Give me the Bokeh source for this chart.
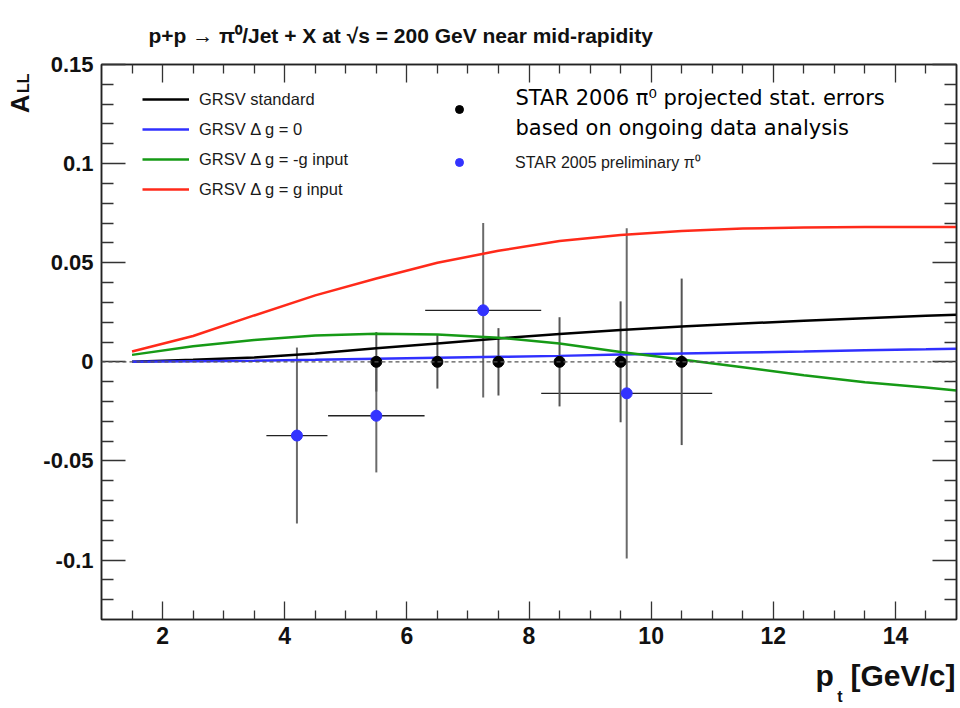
from bokeh.plotting import figure
from bokeh.models import (Range1d, LinearAxis, FixedTicker, Span, Title,
                          Legend, LegendItem, Label)
from bokeh.core.properties import value
from bokeh.embed import file_html
from bokeh.resources import INLINE

# ---------------- data ----------------
x_curve = [1.5, 2.5, 3.5, 4.5, 5.5, 6.5, 7.5, 8.5, 9.5, 10.5, 11.5, 12.5, 13.5, 14.5, 15.0]
grsv_std = [0.0, 0.001, 0.0022, 0.0042, 0.0068, 0.0093, 0.0118, 0.014, 0.016, 0.0178,
            0.0193, 0.0207, 0.022, 0.0232, 0.0238]
grsv_zero = [0.0, 0.0003, 0.0006, 0.001, 0.0015, 0.002, 0.0025, 0.003, 0.0037, 0.0042,
             0.0047, 0.0052, 0.0058, 0.0063, 0.0066]
grsv_minus = [0.0035, 0.0078, 0.011, 0.0133, 0.0142, 0.0138, 0.0122, 0.0092, 0.005, 0.0012,
              -0.0027, -0.0068, -0.0103, -0.013, -0.0145]
grsv_plus = [0.0052, 0.013, 0.0234, 0.0335, 0.042, 0.050, 0.056, 0.061, 0.064, 0.066,
             0.0672, 0.0678, 0.068, 0.068, 0.068]

star06_x = [5.5, 6.5, 7.5, 8.5, 9.5, 10.5]
star06_y = [0.0, 0.0, 0.0, 0.0, 0.0, 0.0]
star06_yerr = [0.015, 0.0135, 0.017, 0.0225, 0.0305, 0.042]

star05_x = [4.2, 5.5, 7.25, 9.6]
star05_y = [-0.0372, -0.0272, 0.026, -0.0159]
star05_yerr = [0.0444, 0.0286, 0.044, 0.0833]
star05_xerr = [0.5, 0.79, 0.95, 1.4]

x_major = [2, 4, 6, 8, 10, 12, 14]
x_minor = [1.5, 2.5, 3, 3.5, 4.5, 5, 5.5, 6.5, 7, 7.5, 8.5, 9, 9.5, 10.5, 11, 11.5,
           12.5, 13, 13.5, 14.5]
x_labels = ["2", "4", "6", "8", "10", "12", "14"]
y_major = [-0.1, -0.05, 0.0, 0.05, 0.1, 0.15]
y_minor = [-0.12, -0.11, -0.09, -0.08, -0.07, -0.06, -0.04, -0.03, -0.02, -0.01,
           0.01, 0.02, 0.03, 0.04, 0.06, 0.07, 0.08, 0.09, 0.11, 0.12, 0.13, 0.14]
y_labels = ["-0.1", "-0.05", "0", "0.05", "0.1", "0.15"]

title_text = "p+p \u2192 \u03c0\u2070/Jet + X at \u221as = 200 GeV near mid-rapidity"
legend_curves = ["GRSV standard", "GRSV \u0394 g = 0", "GRSV \u0394 g = -g input",
                 "GRSV \u0394 g = g input"]
legend_05 = "STAR 2005 preliminary \u03c0\u2070"
note_lines = ["STAR 2006 \u03c0\u2070 projected stat. errors", "based on ongoing data analysis"]

# ---------------- figure ----------------
FL, FB = 101, 619  # frame left / bottom on the canvas

p = figure(width=960, height=708, output_backend="svg", toolbar_location=None,
           x_range=Range1d(1, 15), y_range=Range1d(-0.13, 0.15),
           min_border_left=101, min_border_right=4, min_border_top=64,
           min_border_bottom=89, x_axis_location=None, y_axis_location=None)
p.background_fill_color = "white"
p.border_fill_color = "white"
p.outline_line_color = "#222222"
p.outline_line_width = 1.5
p.grid.visible = False
p.xgrid.visible = False
p.ygrid.visible = False


def make_axis(ticks, minor, labels, maj_in, min_in, show, size):
    ax = LinearAxis(ticker=FixedTicker(ticks=ticks, minor_ticks=minor))
    ax.major_tick_in = maj_in
    ax.major_tick_out = 0
    ax.minor_tick_in = min_in
    ax.minor_tick_out = 0
    ax.major_tick_line_color = "#333333"
    ax.minor_tick_line_color = "#333333"
    ax.major_tick_line_width = 1.3
    ax.minor_tick_line_width = 1.3
    ax.axis_line_color = "#222222"
    ax.axis_line_width = 1.5
    if show:
        ax.major_label_overrides = {t: l for t, l in zip(ticks, labels)}
        ax.major_label_text_font = "Liberation Sans"
        ax.major_label_text_font_style = "bold"
        ax.major_label_text_font_size = size
        ax.major_label_text_color = "#111111"
    else:
        ax.major_label_overrides = {t: "" for t in ticks}
        ax.major_label_standoff = 0
        ax.major_label_text_font_size = "1px"
    return ax


xb = make_axis(x_major, x_minor, x_labels, 18, 9, True, "23px")
xb.major_label_standoff = 7
yl = make_axis(y_major, y_minor, y_labels, 24, 12, True, "22px")
yl.major_label_standoff = 8
xt = make_axis(x_major, x_minor, x_labels, 18, 9, False, "1px")
yr = make_axis(y_major, y_minor, y_labels, 24, 12, False, "1px")
p.add_layout(xb, "below")
p.add_layout(yl, "left")
p.add_layout(xt, "above")
p.add_layout(yr, "right")

# ---- title (above) ----
p.title.text = title_text
p.title.align = "left"
p.title.offset = 47
p.title.standoff = 36
p.title.text_font = "Liberation Sans"
p.title.text_font_style = "bold"
p.title.text_font_size = "21px"
p.title.text_color = "#111111"
p.title.vertical_align = "bottom"

# ---- y axis title A_LL (left) ----
t_ll = Title(text="LL", align="right", offset=9, standoff=18, vertical_align="bottom",
             text_font="Liberation Sans", text_font_style="bold", text_font_size="16px",
             text_color="#111111")
t_a = Title(text="A", align="right", offset=30, standoff=-62, vertical_align="bottom",
            text_font="Liberation Sans", text_font_style="bold", text_font_size="26px",
            text_color="#111111")
p.add_layout(t_ll, "left")
p.add_layout(t_a, "left")

# ---- x axis title p_t [GeV/c] (below) ----
t_x = Title(text="p\u00a0\u00a0[GeV/c]", align="right", offset=1, standoff=20,
            vertical_align="bottom", text_font="Liberation Sans", text_font_style="bold",
            text_font_size="30px", text_color="#111111")
t_t = Title(text="t", align="right", offset=114, standoff=-27, vertical_align="top",
            text_font="Liberation Sans", text_font_style="bold", text_font_size="16px",
            text_color="#111111")
p.add_layout(t_x, "below")
p.add_layout(t_t, "below")

# zero line
p.add_layout(Span(location=0, dimension="width", line_color="#555555",
                  line_dash="4 3", line_width=1.2))

# error bars: STAR 2005
p.segment(x0=star05_x, x1=star05_x,
          y0=[y - e for y, e in zip(star05_y, star05_yerr)],
          y1=[y + e for y, e in zip(star05_y, star05_yerr)],
          line_color="#6a6a6a", line_width=2)
p.segment(x0=[x - e for x, e in zip(star05_x, star05_xerr)],
          x1=[x + e for x, e in zip(star05_x, star05_xerr)],
          y0=star05_y, y1=star05_y, line_color="#222222", line_width=1.3)
# error bars: STAR 2006 projected
p.segment(x0=star06_x, x1=star06_x,
          y0=[y - e for y, e in zip(star06_y, star06_yerr)],
          y1=[y + e for y, e in zip(star06_y, star06_yerr)],
          line_color="#555555", line_width=2)

# curves
r_std = p.line(x_curve, grsv_std, line_color="#000000", line_width=2.5)
r_zero = p.line(x_curve, grsv_zero, line_color="#3030ff", line_width=2.5)
r_minus = p.line(x_curve, grsv_minus, line_color="#169a16", line_width=2.5)
r_plus = p.line(x_curve, grsv_plus, line_color="#ff2a1a", line_width=2.5)

# points
r06 = p.scatter(star06_x, star06_y, size=11, fill_color="#000000", line_color="#000000")
r05 = p.scatter(star05_x, star05_y, size=11, fill_color="#3333ff", line_color="#3333ff")

# legends
leg1 = Legend(items=[LegendItem(label=value(t), renderers=[r])
                     for t, r in zip(legend_curves, [r_std, r_zero, r_minus, r_plus])],
              location=(41, 420), orientation="vertical",
              glyph_width=47, glyph_height=20, label_height=20, spacing=10,
              label_standoff=10, padding=0, margin=0,
              label_text_font="Liberation Sans", label_text_font_size="16.5px",
              label_text_color="#1a1a1a",
              background_fill_alpha=0, border_line_alpha=0)
p.add_layout(leg1)

leg2 = Legend(items=[LegendItem(label=value(" "), renderers=[r06]),
                     LegendItem(label=value(legend_05), renderers=[r05])],
              location=(348, 446), orientation="vertical",
              glyph_width=20, glyph_height=20, label_height=20, spacing=32,
              label_standoff=46, padding=0, margin=0,
              label_text_font="Liberation Sans", label_text_font_size="16px",
              label_text_color="#1a1a1a",
              background_fill_alpha=0, border_line_alpha=0)
p.add_layout(leg2)

# STAR 2006 note (inside the frame)
for txt, cy in zip(note_lines, [97, 127]):
    p.add_layout(Label(x=515 - FL, y=FB - cy, x_units="screen", y_units="screen",
                       text=txt, text_font="DejaVu Sans", text_font_size="21px",
                       text_align="left", text_baseline="middle", text_color="#000000"))

open("out.html", "w").write(file_html(p, INLINE))
